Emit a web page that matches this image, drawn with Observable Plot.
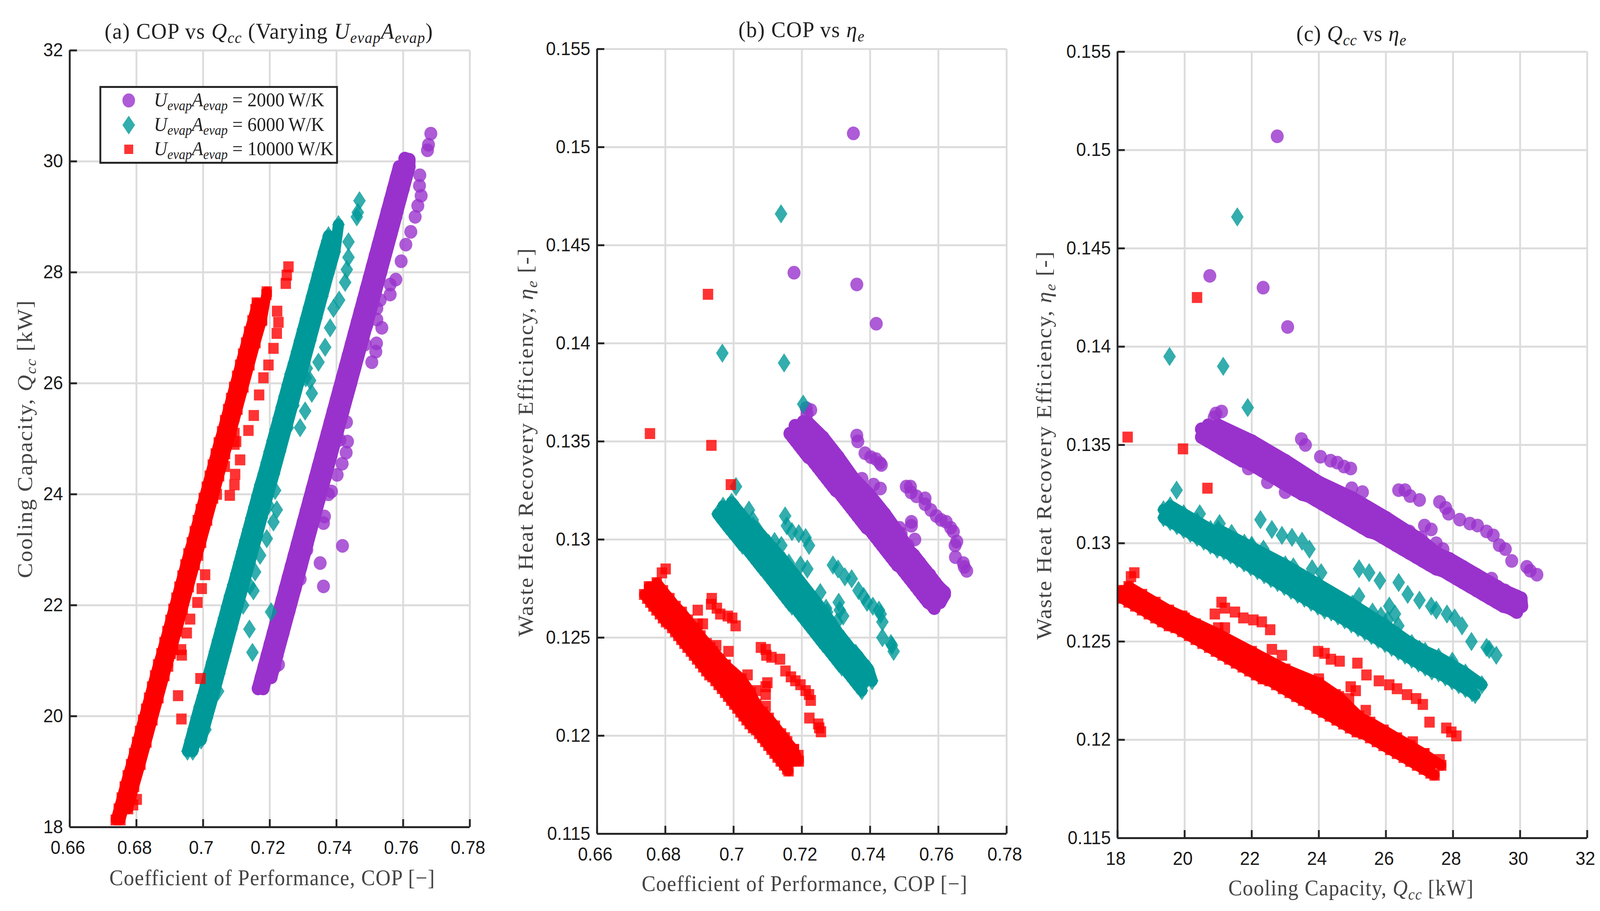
<!DOCTYPE html>
<html><head><meta charset="utf-8">
<script src="https://cdn.jsdelivr.net/npm/d3@7"></script>
<script src="https://cdn.jsdelivr.net/npm/@observablehq/plot@0.6"></script>
<style>
html,body{margin:0;padding:0;background:#fff;overflow:hidden}
#page{position:relative;width:4313px;height:2331px;overflow:hidden;background:#fff;transform-origin:0 0}
#page svg.plot,#page>svg{position:absolute;left:0;top:0}
.t{position:absolute;white-space:nowrap;font-family:"Liberation Serif",serif;transform:translate(-50%,-50%);line-height:1}
.t sub{font-size:.7em;vertical-align:-.28em;line-height:0}
.r{transform:translate(-50%,-50%) rotate(-90deg)}
#legend{position:absolute;left:268px;top:220px;width:633px;height:189px;border:5px solid #262626;background:#fff}
#legend .row{position:absolute;left:0;width:100%;height:60px;font:50px "Liberation Serif",serif;color:#222;white-space:nowrap}
#legend .row svg{position:absolute;left:50px;top:0}
#legend .row span{position:absolute;left:142px;top:-3px}
#legend sub{font-size:.7em;vertical-align:-.28em;line-height:0}
</style></head><body><div id="page"></div>
<script>
const copTicks=[0.66,0.68,0.7,0.72,0.74,0.76,0.78];
const qccTicks=[18,20,22,24,26,28,30,32];
const etaTicks=[0.115,0.12,0.125,0.13,0.135,0.14,0.145,0.15,0.155];
// each row: COP, Qcc (kW), eta_e
const purpleEdge=[[.7165,20.5,.1354],[.7174,20.7,.1352],[.7183,20.9,.135],[.7192,21.1,.1348],[.7201,21.3,.1346],[.721,21.5,.1344],[.7219,21.7,.1342],[.7228,21.9,.1341],[.7237,22.1,.1339],[.7246,22.3,.1337],[.7255,22.5,.1335],[.7264,22.7,.1333],[.7273,22.9,.1331],[.7282,23.1,.1329],[.7291,23.3,.1327],[.73,23.5,.1325],[.7309,23.7,.1324],[.7318,23.9,.1322],[.7327,24.1,.132],[.7336,24.3,.1318],[.7345,24.5,.1316],[.7354,24.7,.1314],[.7363,24.9,.1312],[.7372,25.1,.131],[.7381,25.3,.1308],[.739,25.5,.1306],[.7399,25.7,.1305],[.7408,25.9,.1303],[.7417,26.1,.1301],[.7426,26.3,.1299],[.7435,26.5,.1297],[.7444,26.7,.1295],[.7453,26.9,.1293],[.7462,27.1,.1291],[.7471,27.3,.1289],[.748,27.5,.1287],[.7489,27.7,.1286],[.7498,27.9,.1284],[.7507,28.1,.1282],[.7516,28.3,.128],[.7525,28.5,.1278],[.7534,28.7,.1276],[.7543,28.9,.1274],[.7552,29.1,.1272],[.7561,29.3,.127],[.757,29.5,.1268],[.7579,29.7,.1267],[.7588,29.9,.1265]];
const purpleMid=[[.718,20.5,.1358],[.7198,20.9,.1354],[.7216,21.3,.135],[.7234,21.7,.1346],[.7252,22.1,.1343],[.727,22.5,.1339],[.7288,22.9,.1335],[.7306,23.3,.1331],[.7324,23.7,.1328],[.7342,24.1,.1324],[.736,24.5,.132],[.7378,24.9,.1316],[.7396,25.3,.1312],[.7414,25.7,.1309],[.7432,26.1,.1305],[.745,26.5,.1301],[.7468,26.9,.1297],[.7486,27.3,.1293],[.7504,27.7,.129],[.7522,28.1,.1286],[.754,28.5,.1282],[.7558,28.9,.1278],[.7576,29.3,.1274],[.7594,29.7,.1271]];
const purpleUpper=[[.7204,20.7,.136],[.7222,21.1,.1356],[.724,21.5,.1352],[.7258,21.9,.1349],[.7276,22.3,.1345],[.7294,22.7,.1341],[.7312,23.1,.1337],[.733,23.5,.1333],[.7348,23.9,.133],[.7366,24.3,.1326],[.7384,24.7,.1322],[.7402,25.1,.1318],[.742,25.5,.1314],[.7438,25.9,.1311],[.7456,26.3,.1307],[.7474,26.7,.1303],[.7492,27.1,.1299],[.751,27.5,.1295],[.7528,27.9,.1292],[.7546,28.3,.1288],[.7564,28.7,.1284],[.7582,29.1,.128],[.76,29.5,.1276],[.7618,29.9,.1273],[.7618,30.03,.1272],[.7605,30.05,.1268]];
const purpleTop=[[.7215,21,.136],[.7262,22,.1352],[.7307,23,.1342],[.7352,24,.1331],[.7397,25,.1323],[.7443,26,.1313],[.7488,27,.1302],[.7533,28,.1288],[.7578,29,.1278]];
const purpleOutliers=[[.7351,22.76,.1507],[.7361,22.34,.143],[.7418,23.07,.141],[.7177,20.75,.1436],[.7213,21.1,.1367],[.7226,20.93,.1366],[.7215,20.88,.1364],[.7361,23.48,.1353],[.7364,23.6,.135],[.7385,24.05,.1344],[.7402,24.35,.1342],[.7417,24.55,.1341],[.7429,24.75,.1339],[.7433,24.95,.1338],[.7506,26.38,.1327],[.7518,26.57,.1327],[.752,26.72,.1324],[.7536,27,.1322],[.7561,27.6,.1321],[.7561,27.78,.1318],[.7578,27.87,.1315],[.7594,28.2,.1312],[.7608,28.5,.131],[.7623,28.73,.1309],[.7636,29,.1306],[.7644,29.2,.1304],[.7654,29.38,.1299],[.7649,29.56,.1297],[.765,29.75,.1291],[.7673,30.2,.1288],[.7676,30.3,.1286],[.7683,30.5,.1284],[.741,24.98,.1328],[.7376,24,.1331],[.743,25.3,.1326],[.7486,26.7,.1306],[.7491,27.05,.1303],[.7521,27.15,.1309],[.7521,27.35,.1307],[.7511,27.7,.1297],[.7531,27.5,.13],[.7575,29.15,.1282],[.7591,29.32,.1278],[.7595,29.55,.1276],[.7311,23,.1326],[.7291,22.47,.1331],[.725,21.9,.1338]];
const tealEdge=[[.6953,19.37,.1313],[.6962,19.57,.1311],[.6971,19.77,.1309],[.698,19.97,.1307],[.6989,20.17,.1305],[.6999,20.37,.1303],[.7008,20.57,.1301],[.7017,20.77,.1299],[.7026,20.97,.1297],[.7035,21.17,.1296],[.7044,21.37,.1294],[.7053,21.57,.1292],[.7062,21.77,.129],[.7071,21.97,.1288],[.708,22.17,.1286],[.709,22.37,.1284],[.7099,22.57,.1282],[.7108,22.77,.128],[.7117,22.97,.1278],[.7126,23.17,.1276],[.7135,23.37,.1274],[.7144,23.57,.1272],[.7153,23.77,.127],[.7162,23.97,.1268],[.7171,24.17,.1266],[.7181,24.37,.1265],[.719,24.57,.1263],[.7199,24.77,.1261],[.7208,24.97,.1259],[.7217,25.17,.1257],[.7226,25.37,.1255],[.7235,25.57,.1253],[.7244,25.77,.1251],[.7253,25.97,.1249],[.7262,26.17,.1247],[.7272,26.37,.1245],[.7281,26.57,.1243],[.729,26.77,.1241],[.7299,26.97,.1239],[.7308,27.17,.1237],[.7317,27.37,.1235],[.7326,27.57,.1234],[.7335,27.77,.1232],[.7344,27.97,.123],[.7353,28.17,.1228],[.7362,28.37,.1226],[.7372,28.57,.1224],[.7376,28.66,.1223]];
const tealMid=[[.6969,19.37,.1317],[.6987,19.77,.1313],[.7005,20.17,.1309],[.7024,20.57,.1305],[.7042,20.97,.1301],[.706,21.37,.1298],[.7078,21.77,.1294],[.7096,22.17,.129],[.7115,22.57,.1286],[.7133,22.97,.1282],[.7151,23.37,.1278],[.7169,23.77,.1274],[.7187,24.17,.127],[.7206,24.57,.1267],[.7224,24.97,.1263],[.7242,25.37,.1259],[.726,25.77,.1255],[.7278,26.17,.1251],[.7297,26.57,.1247],[.7315,26.97,.1243],[.7333,27.37,.1239],[.7351,27.77,.1236],[.7369,28.17,.1232],[.7388,28.57,.1228]];
const tealUpper=[[.6994,19.57,.1319],[.7012,19.97,.1315],[.7031,20.37,.1311],[.7049,20.77,.1307],[.7067,21.17,.1304],[.7085,21.57,.13],[.7103,21.97,.1296],[.7122,22.37,.1292],[.714,22.77,.1288],[.7158,23.17,.1284],[.7176,23.57,.128],[.7194,23.97,.1276],[.7213,24.37,.1273],[.7231,24.77,.1269],[.7249,25.17,.1265],[.7267,25.57,.1261],[.7285,25.97,.1257],[.7304,26.37,.1253],[.7322,26.77,.1249],[.734,27.17,.1245],[.7358,27.57,.1242],[.7376,27.97,.1238],[.7395,28.37,.1234],[.7406,28.86,.1228]];
const tealTop=[[.7057,21,.1307],[.7103,22,.1298],[.7148,23,.1289],[.7194,24,.1279],[.7239,25,.1269],[.7285,26,.1258],[.733,27,.1246]];
const tealOutliers=[[.7139,21.57,.1466],[.6967,19.55,.1395],[.7148,21.15,.139],[.7204,21.88,.1369],[.7151,22.26,.1312],[.7156,22.6,.1307],[.7171,22.9,.1304],[.7191,23.2,.1303],[.7211,23.5,.1301],[.7221,23.72,.1297],[.7291,25.2,.1287],[.7306,25.5,.1285],[.7326,25.82,.1281],[.7346,26.38,.128],[.7366,26.65,.1274],[.7381,27,.1271],[.7391,27.35,.1268],[.7408,27.5,.1266],[.7426,27.82,.1264],[.7431,28.05,.1262],[.7436,28.27,.1258],[.7436,28.55,.125],[.7461,29,.1247],[.7464,29.08,.1246],[.7469,29.29,.1243],[.7361,27.98,.124],[.7308,26.1,.1268],[.7274,25.85,.1263],[.7303,26.37,.1258],[.7311,26.27,.1264],[.7321,26.05,.1261],[.7271,25.6,.1265],[.7254,25.2,.1273],[.7196,23.8,.1287],[.7162,23.24,.1288],[.7216,24.07,.1285],[.7091,21.78,.13],[.7071,21.4,.1305],[.7056,21.04,.131],[.712,22,.1299],[.714,22.35,.1297],[.7045,20.45,.1315],[.7007,19.76,.1327]];
const redEdge=[[.6738,18.13,.1272],[.6747,18.33,.127],[.6756,18.53,.1268],[.6765,18.73,.1266],[.6774,18.93,.1264],[.6784,19.13,.1262],[.6793,19.33,.126],[.6802,19.53,.1258],[.6811,19.73,.1257],[.682,19.93,.1255],[.6829,20.13,.1253],[.6838,20.33,.1251],[.6847,20.53,.1249],[.6856,20.73,.1247],[.6865,20.93,.1245],[.6875,21.13,.1243],[.6884,21.33,.1241],[.6893,21.53,.1239],[.6902,21.73,.1237],[.6911,21.93,.1235],[.692,22.13,.1233],[.6929,22.33,.1231],[.6938,22.53,.123],[.6947,22.73,.1228],[.6956,22.93,.1226],[.6966,23.13,.1224],[.6975,23.33,.1222],[.6984,23.53,.122],[.6993,23.73,.1218],[.7002,23.93,.1216],[.7011,24.13,.1214],[.702,24.33,.1212],[.7029,24.53,.121],[.7038,24.73,.1208],[.7047,24.93,.1206],[.7057,25.13,.1204],[.7066,25.33,.1203],[.7075,25.53,.1201],[.7084,25.73,.1199],[.7093,25.93,.1197],[.7102,26.13,.1195],[.7111,26.33,.1193],[.712,26.53,.1191],[.7129,26.73,.1189],[.7138,26.93,.1187],[.7148,27.13,.1185],[.7157,27.33,.1183],[.7161,27.45,.1182]];
const redMid=[[.6752,18.13,.1276],[.677,18.53,.1272],[.6788,18.93,.1268],[.6807,19.33,.1264],[.6825,19.73,.1261],[.6843,20.13,.1257],[.6861,20.53,.1253],[.6879,20.93,.1249],[.6898,21.33,.1245],[.6916,21.73,.1241],[.6934,22.13,.1237],[.6952,22.53,.1234],[.697,22.93,.123],[.6989,23.33,.1226],[.7007,23.73,.1222],[.7025,24.13,.1218],[.7043,24.53,.1214],[.7061,24.93,.121],[.708,25.33,.1207],[.7098,25.73,.1203],[.7116,26.13,.1199],[.7134,26.53,.1195],[.7152,26.93,.1191],[.7171,27.33,.1187]];
const redUpper=[[.6775,18.33,.1278],[.6793,18.73,.1274],[.6812,19.13,.127],[.683,19.53,.1266],[.6848,19.93,.1263],[.6866,20.33,.1259],[.6884,20.73,.1255],[.6903,21.13,.1251],[.6921,21.53,.1247],[.6939,21.93,.1243],[.6957,22.33,.1239],[.6975,22.73,.1236],[.6994,23.13,.1232],[.7012,23.53,.1228],[.703,23.93,.1224],[.7048,24.33,.122],[.7066,24.73,.1216],[.7085,25.13,.1212],[.7103,25.53,.1209],[.7121,25.93,.1205],[.7139,26.33,.1201],[.7157,26.73,.1197],[.7176,27.13,.1193],[.7191,27.65,.1187]];
const redTop=[[.6841,20,.1262],[.6886,21,.1254],[.6932,22,.1245],[.6977,23,.1236],[.7023,24,.1229],[.705,24.6,.1222],[.7077,25.2,.1212]];
const redOutliers=[[.6925,20.37,.1425],[.6755,18.3,.1354],[.6935,19.95,.1348],[.6992,20.68,.1328],[.6936,21.1,.127],[.6934,21.2,.1267],[.6951,21.5,.1265],[.6961,21.75,.1262],[.6983,22.05,.1261],[.6996,22.3,.126],[.7006,22.55,.1256],[.6801,18.5,.1285],[.679,18.4,.1283],[.708,23.98,.1245],[.7094,24.17,.1244],[.7096,24.36,.1241],[.7111,24.62,.124],[.7136,25.15,.1239],[.7152,25.42,.1233],[.7168,25.79,.123],[.7181,26.1,.1228],[.7196,26.33,.1226],[.7211,26.63,.1223],[.7221,26.9,.1221],[.7226,27.1,.1218],[.7222,27.3,.1209],[.7248,27.8,.1206],[.7251,27.95,.1204],[.7256,28.1,.1202],[.6949,22.6,.1246],[.6985,22.9,.1243],[.7041,24,.1231],[.7099,24.95,.1227],[.7094,25.1,.1225],[.7065,24.5,.1223],[.7094,24.9,.1221],[.7094,25.4,.1215],[.715,26.8,.1199],[.7177,27.15,.1193],[.719,27.6,.119],[.6895,20.9,.1264],[.6895,21,.1257],[.691,21.2,.1257]];

const purpleBand=[purpleEdge,purpleMid,purpleUpper,purpleTop];
const tealBand=[tealEdge,tealMid,tealUpper,tealTop];
const redBand=[redEdge,redMid,redUpper,redTop];

const diamond={draw(c,s){const r=Math.sqrt(s/Math.PI);c.moveTo(0,-r*1.45);c.lineTo(r,0);c.lineTo(0,r*1.45);c.lineTo(-r,0);c.closePath();}};
const box={draw(c,s){const r=Math.sqrt(s/Math.PI);c.rect(-r,-r,2*r,2*r);}};

const W=4313,H=2331,page=document.getElementById("page");
const sx=Math.min(1,document.documentElement.clientWidth/W);
page.style.transform="scale("+sx+",1)";
const tf=d=>String(d);
function panel(p){
  const [xi,yi]=p.cols;
  const pts=(rows,symbol,r,fill)=>Plot.dot(rows,{x:d=>d[xi],y:d=>d[yi],symbol,r,fill,fillOpacity:0.8,stroke:"none"});
  const band=(rows,w,stroke,sym,r)=>[Plot.line(rows,{x:d=>d[xi],y:d=>d[yi],stroke,strokeWidth:w,strokeLinejoin:"round",strokeLinecap:"round"}),pts(rows,sym,r,stroke)];
  const svg=Plot.plot({width:W,height:H,marginLeft:p.l,marginRight:W-p.r,marginTop:p.t,marginBottom:H-p.b,
    style:{background:"transparent",overflow:"visible",fontFamily:"'Liberation Sans',Arial,sans-serif"},
    x:{domain:p.xd},y:{domain:p.yd},
    marks:[
      Plot.gridX(p.xt,{stroke:"#dcdcdc",strokeOpacity:1,strokeWidth:5}),
      Plot.gridY(p.yt,{stroke:"#dcdcdc",strokeOpacity:1,strokeWidth:5}),
      purpleBand.map(s=>band(s,34,"#9932CC","circle",17.5)),
      pts(purpleOutliers,"circle",17.5,"#9932CC"),
      tealBand.map(s=>band(s,30,"#009999",diamond,17)),
      pts(tealOutliers,diamond,17,"#009999"),
      redBand.map(s=>band(s,27,"#FF0000",box,14)),
      pts(redOutliers,box,14,"#FF0000"),
      Plot.axisX(p.xt,{anchor:"bottom",label:null,tickSize:0,tickPadding:34,dx:-5,fontSize:48,tickFormat:tf,color:"#1a1a1a"}),
      Plot.axisY(p.yt,{anchor:"left",label:null,tickSize:0,tickPadding:18,fontSize:48,tickFormat:tf,color:"#1a1a1a"}),
      Plot.axisX(p.xt,{anchor:"bottom",label:null,tickSize:-20,text:null,stroke:"#262626",strokeWidth:5}),
      Plot.axisY(p.yt,{anchor:"left",label:null,tickSize:-20,text:null,stroke:"#262626",strokeWidth:5}),
      Plot.ruleX([p.xd[0]],{stroke:"#262626",strokeWidth:5}),
      Plot.ruleY([p.yd[0]],{stroke:"#262626",strokeWidth:5})
    ]});
  page.appendChild(svg);
}
panel({cols:[0,1],l:187.5,r:1266,t:128.5,b:2116,xd:[0.66,0.78],yd:[18,32],xt:copTicks,yt:qccTicks});
panel({cols:[0,2],l:1609,r:2713,t:125,b:2133,xd:[0.66,0.78],yd:[0.115,0.155],xt:copTicks,yt:etaTicks});
panel({cols:[1,2],l:3012,r:4278,t:132,b:2144,xd:[18,32],yd:[0.115,0.155],xt:qccTicks,yt:etaTicks});

const Qcc='<i>Q<sub>cc</sub></i>', Eta='<i>η<sub>e</sub></i>', UA='<i>U<sub>evap</sub>A<sub>evap</sub></i>';
const texts=[
 [725,80,'(a) COP vs '+Qcc+' (Varying '+UA+')',58,0,"#222",1.6],
 [2161,76,'(b) COP vs '+Eta,58,0,"#222",1.6],
 [3643,86,'(c) '+Qcc+' vs '+Eta,58,0,"#222",1],
 [734,2246,'Coefficient of Performance, COP [−]',56,0,"#444",1.4],
 [2169,2261,'Coefficient of Performance, COP [−]',56,0,"#444",1.4],
 [3642,2272,'Cooling Capacity, '+Qcc+' [kW]',56,0,"#444",1.4],
 [67,1123,'Cooling Capacity, '+Qcc+' [kW]',58,1,"#444",2.5],
 [1417,1131,'Waste Heat Recovery Efficiency, '+Eta+' [-]',58,1,"#444",2.5],
 [2815,1139,'Waste Heat Recovery Efficiency, '+Eta+' [-]',58,1,"#444",2.5]
];
for(const [x,y,h,fs,rot,col,ls] of texts){
  const d=document.createElement("div");d.className="t"+(rot?" r":"");
  d.style.left=x+"px";d.style.top=y+"px";d.style.fontSize=fs+"px";d.style.color=col;d.style.letterSpacing=ls+"px";d.innerHTML=h;page.appendChild(d);
}
const legendLabels=["2000","6000","10000"];
const legendFills=["#9932CC","#009999","#FF0000"];
const legendShapes=['<ellipse cx="24" cy="28" rx="17" ry="18"/>','<polygon points="24,4 41,28 24,52 7,28"/>','<rect x="12" y="16" width="24" height="24"/>'];
const lg=document.createElement("div");lg.id="legend";
legendLabels.forEach((v,i)=>{
  lg.innerHTML+='<div class="row" style="top:'+(4+i*62.5)+'px"><svg width="48" height="56" fill="'+legendFills[i]+'" fill-opacity="0.8">'+legendShapes[i]+'</svg><span>'+UA+' = '+v+'&#8201;W/K</span></div>';
});
page.appendChild(lg);
</script></body></html>
